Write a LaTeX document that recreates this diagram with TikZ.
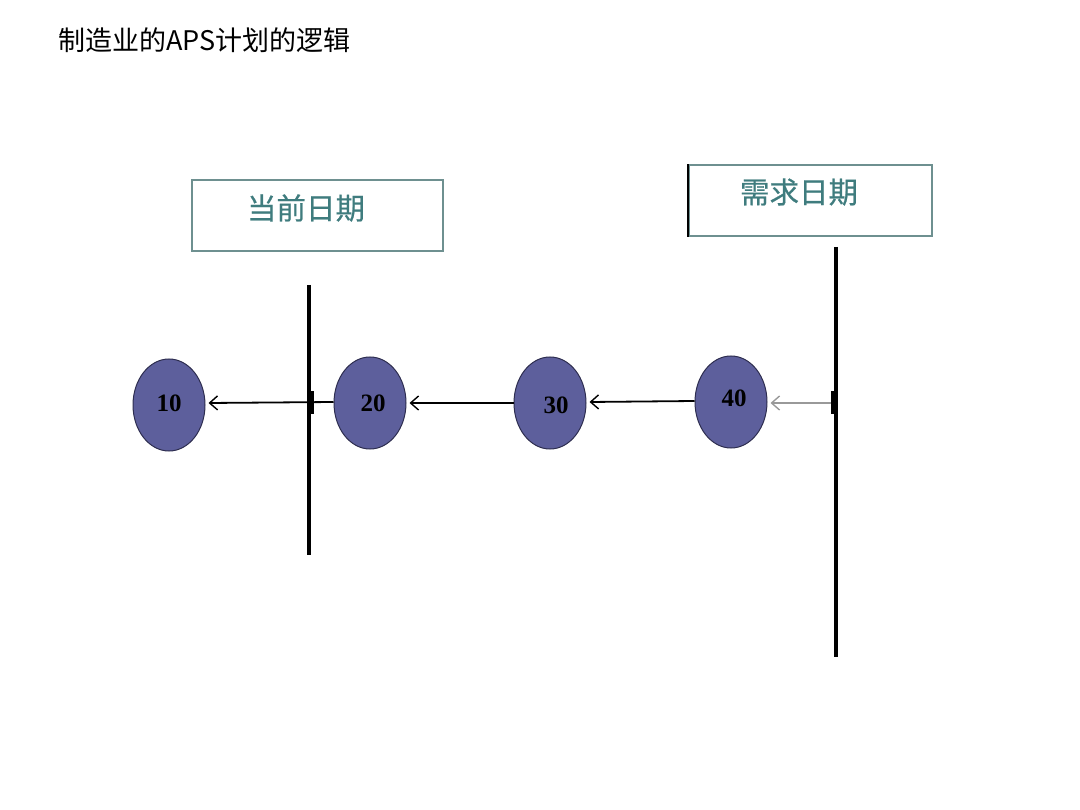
\documentclass[tikz,border=0pt]{standalone}
\usepackage{fontspec}
\newfontfamily\cjk{Noto Sans CJK SC}
\newfontfamily\cjkm{Noto Sans CJK SC}[FakeBold=0.6]
\newfontfamily\serifb{Liberation Serif}
\usetikzlibrary{shapes.geometric,arrows.meta}
\definecolor{circfill}{HTML}{5D5F9C}
\definecolor{circdraw}{HTML}{2E2E50}
\definecolor{teal}{HTML}{3F7C7E}
\definecolor{boxline}{HTML}{6E9090}
\tikzset{
  stagecirc/.style={ellipse, draw=circdraw, line width=1pt, fill=circfill,
    minimum width=72pt, minimum height=92pt, inner sep=0pt},
  numlabel/.style={font=\serifb\bfseries\fontsize{25}{25}\selectfont, inner sep=0pt, text=black},
  datebox/.style={draw=boxline, line width=1.2pt, minimum width=251pt, minimum height=71pt,
    inner sep=0pt},
  datetext/.style={text=teal, font=\cjkm\fontsize{29.5}{29.5}\selectfont, inner sep=0pt},
  thickline/.style={line width=4.5pt, black},
  arr/.style={line width=1.8pt, -{Straight Barb[length=8pt,width=14pt,line width=1.4pt]}},
}
\begin{document}
\begin{tikzpicture}[x=1pt,y=-1pt]
\useasboundingbox (0,0) rectangle (1080,810);
% title
\node[anchor=west, inner sep=0pt, font=\cjk\fontsize{27}{27}\selectfont] (title) at (58,40) {制造业的APS计划的逻辑};
% boxes
\node[datebox] (cur) at (317.5,215.5) {};
\node[datetext] (curtxt) at (306,208) {当前日期};
\node[datebox, minimum width=243pt] (req) at (810.5,200.5) {};
\node[datetext] (reqtxt) at (799,192) {需求日期};
\draw[line width=2pt, black] (req.north west) -- (req.south west);
% vertical lines
\coordinate (l1top) at (309,285);
\coordinate (l1bot) at (309,555);
\coordinate (l2top) at (836,247);
\coordinate (l2bot) at (836,657);
\draw[thickline] (l1top) -- (l1bot);
\draw[thickline] (l2top) -- (l2bot);
% circles
\node[stagecirc] (n10) at (169,405) {};
\node[numlabel] (t10) at (169,403) {10};
\node[stagecirc] (n20) at (370,403) {};
\node[numlabel] (t20) at (373,403) {20};
\node[stagecirc] (n30) at (550,403) {};
\node[numlabel] (t30) at (556,405) {30};
\node[stagecirc] (n40) at (731,402) {};
\node[numlabel] (t40) at (734,398) {40};
% arrows
\coordinate (s40) at (834,403);
\draw[arr, draw=gray!80] (s40) -- ([xshift=3pt]n40.east |- s40);
\draw[arr] ([yshift=1pt]n40.west) -- ([xshift=3pt,yshift=1pt]n30.east);
\draw[arr] (n30.west) -- ([xshift=3pt]n20.east);
\draw[arr] ([yshift=1pt]n20.west) -- ([xshift=3pt,yshift=2pt]n10.east);
% small marks on lines
\fill[black] (831,391) rectangle (836,414);
\fill[black] (307,391) rectangle (314,414);
\end{tikzpicture}
\end{document}
